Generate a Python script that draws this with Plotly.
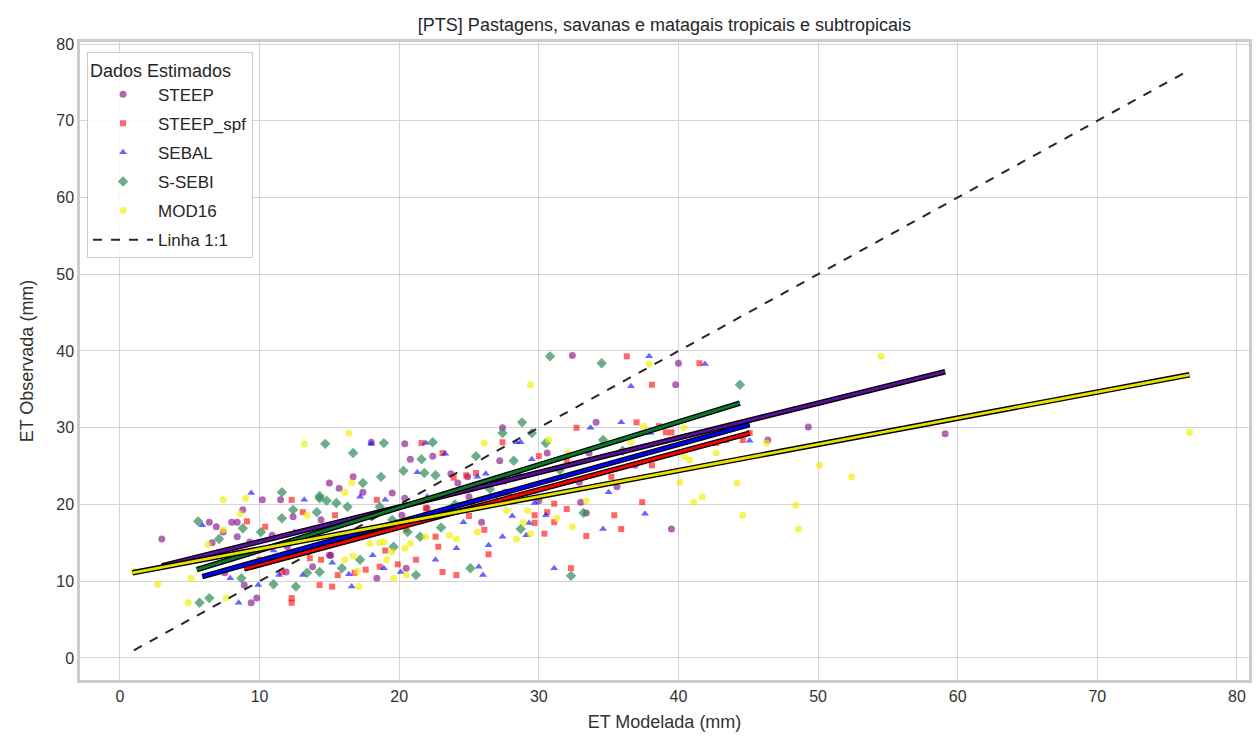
import plotly.graph_objects as go

# ---------------- data ----------------
steep_x = [3.0, 6.4, 6.9, 8.0, 8.4, 7.4, 6.6, 8.4, 8.8, 10.2, 11.5, 10.9, 12.4, 8.9, 9.4, 9.8, 11.9, 13.8, 9.3, 7.5,
           15.7, 17.4, 20.4, 20.2, 15.1, 20.5, 18.4, 25.9, 27.6,
           18.0, 20.4, 20.8, 22.4, 16.7, 27.2, 27.4, 24.2,
           32.4, 34.1, 30.6, 33.6, 32.9, 33.4, 33.0, 36.9, 35.6,
           39.5, 39.8, 40.0, 46.4, 49.3, 59.1,
           15.0, 19.5, 23.7, 24.9, 15.0, 14.4, 22.0, 25.0, 28.5, 30.0, 12.0, 17.0]
steep_y = [15.5, 17.7, 17.1, 17.7, 17.7, 16.4, 15.0, 15.8, 19.3, 20.6, 20.6, 16.0, 18.4, 9.5, 7.2, 7.8, 11.2, 11.9, 15.1, 11.1,
           22.1, 21.6, 20.8, 18.6, 13.4, 11.7, 10.4, 17.7, 21.6,
           28.1, 27.9, 25.9, 26.3, 23.6, 25.7, 30.0, 22.8,
           39.4, 30.7, 26.7, 26.7, 22.9, 18.9, 20.3, 25.1, 22.3,
           16.8, 35.6, 38.4, 28.4, 30.1, 29.2,
           22.8, 21.5, 24.0, 23.6, 13.4, 18.0, 19.5, 21.0, 24.0, 20.5, 14.5, 16.0]

spf_x = [36.3, 41.5, 38.1, 32.7, 37.0, 38.6, 39.1, 39.5, 30.0, 32.0, 35.2, 38.1,
         42.7, 43.4, 44.6, 45.1,
         31.1, 30.6, 32.0, 29.7, 29.7, 31.1, 30.4, 33.4, 35.4, 35.9, 37.4, 32.3,
         15.4, 18.4, 19.9, 21.2, 23.1, 24.1, 22.6, 22.8, 26.1, 26.4, 15.2, 18.6, 17.6, 15.6, 16.8, 21.9,
         12.3, 13.1, 9.1, 10.4, 12.3, 12.3, 14.3, 14.4, 13.6,
         21.6, 23.1, 27.4, 25.5, 24.8, 23.9,
         10.0, 11.6, 20.5, 25.0, 28.0, 19.0, 17.0, 27.5]
spf_y = [39.3, 38.4, 35.6, 30.0, 30.7, 30.2, 29.4, 29.4, 26.3, 25.8, 23.6, 25.1,
         28.0, 28.4, 28.4, 29.3,
         20.1, 19.0, 19.4, 18.6, 17.6, 17.7, 16.2, 15.9, 18.6, 16.8, 20.3, 11.7,
         18.6, 20.6, 12.2, 12.8, 11.2, 10.8, 15.8, 14.5, 16.7, 13.5, 9.3, 11.9, 11.5, 10.8, 11.1, 19.5,
         20.6, 19.0, 17.8, 17.1, 7.8, 7.2, 9.5, 12.8, 13.0,
         28.0, 26.7, 28.1, 24.1, 23.8, 23.5,
         12.8, 11.2, 16.8, 18.5, 21.0, 14.0, 16.5, 23.0]

sebal_x = [37.9, 41.9, 36.6, 35.9, 33.7, 38.0, 29.5, 28.7, 45.1,
           35.0, 30.5, 29.3, 29.1, 34.6, 37.6, 31.1, 29.7,
           28.1, 27.4, 26.4, 24.1, 22.6, 25.7, 26.0, 20.1, 16.6, 16.4, 18.9, 18.1, 17.2, 19.0, 24.6, 15.2,
           9.4, 13.2, 5.9, 7.9, 8.5, 9.9, 11.4, 12.5, 13.1,
           18.0, 21.9, 23.3, 21.3, 26.2, 25.6, 28.4,
           14.0, 20.0, 22.0, 11.0, 32.0, 27.0]
sebal_y = [39.3, 38.3, 35.4, 30.7, 30.0, 29.3, 25.9, 28.1, 28.3,
           21.6, 18.6, 17.6, 16.0, 16.8, 18.8, 11.7, 20.2,
           18.5, 15.8, 14.7, 14.3, 12.8, 11.9, 10.8, 11.2, 9.3, 10.9, 11.7, 13.4, 21.0, 20.6, 17.7, 12.4,
           21.5, 20.6, 17.3, 10.4, 7.2, 9.5, 10.8, 16.4, 10.8,
           27.9, 28.0, 26.6, 24.2, 24.0, 23.6, 28.1,
           15.5, 17.0, 21.0, 14.0, 23.0, 20.5]

ssebi_x = [30.8, 34.5, 28.8, 29.5, 30.5, 34.6, 44.4, 32.3, 33.2, 28.7,
           16.7, 18.9, 18.7, 21.6, 22.4, 20.3, 21.8, 22.6, 25.5, 27.4, 28.2,
           14.7, 17.4, 14.3, 14.8, 15.5, 16.3, 14.1, 12.4, 18.6, 17.2, 15.9, 14.3, 12.6, 19.6, 21.5, 21.2, 20.6, 25.1,
           11.6, 14.3, 5.6, 8.8, 7.1, 11.6, 10.1, 5.7, 6.4, 8.7, 11.0, 13.4,
           24.0, 26.5, 31.5, 36.0, 19.5, 23.0]
ssebi_y = [39.3, 38.4, 30.7, 29.3, 28.0, 28.4, 35.6, 10.7, 18.9, 16.8,
           26.7, 28.0, 23.6, 25.9, 28.1, 24.4, 24.1, 23.8, 26.3, 29.3, 25.7,
           27.9, 22.8, 21.1, 20.5, 20.2, 19.7, 19.0, 19.3, 19.7, 12.8, 11.7, 11.2, 9.3, 14.5, 15.8, 10.8, 16.4, 11.7,
           21.6, 20.8, 17.8, 16.9, 15.5, 18.2, 16.4, 7.2, 7.8, 10.4, 9.6, 11.1,
           20.0, 22.0, 24.5, 27.0, 18.0, 17.0]

mod16_x = [1.0, 2.7, 4.9, 7.6, 5.1, 6.3, 7.4, 8.6, 7.4, 9.0, 13.4,
           16.1, 16.7, 17.1, 17.0, 17.9, 18.6, 18.9, 19.5, 20.4, 20.8, 21.9, 23.6, 24.1, 25.6, 27.7, 28.4,
           19.1, 19.6, 20.5, 16.1, 16.4, 13.2, 16.6, 26.1,
           29.4, 37.9, 37.5, 36.6, 32.1, 30.7,
           32.4, 31.3, 33.4, 29.2, 28.9, 29.4,
           40.4, 40.4, 40.8, 40.1, 42.7, 44.2, 41.1, 41.7, 44.6, 46.3, 48.4, 48.6, 50.1, 52.4, 54.5, 76.6]
mod16_y = [11.3, 9.6, 7.2, 7.8, 10.4, 14.8, 16.7, 18.8, 20.6, 20.8, 18.6,
           21.6, 13.3, 9.3, 11.3, 14.9, 15.0, 15.1, 13.8, 14.3, 14.9, 15.8, 16.0, 15.5, 16.4, 19.2, 15.5,
           12.8, 10.4, 10.8, 12.8, 29.3, 27.9, 22.8, 28.0,
           35.6, 38.3, 30.2, 28.1, 26.7, 28.4,
           17.1, 18.2, 20.5, 19.2, 17.7, 16.2,
           30.0, 26.3, 25.8, 22.9, 26.7, 22.8, 20.3, 21.0, 18.6, 28.0, 19.9, 16.8, 25.1, 23.6, 39.3, 29.4]

# fitted regression lines (start / end values)
fit_steep_x, fit_steep_y = [3.0, 59.1], [12.0, 37.3]
fit_spf_x, fit_spf_y = [8.9, 45.1], [11.6, 29.3]
fit_sebal_x, fit_sebal_y = [5.9, 45.1], [10.6, 30.4]
fit_ssebi_x, fit_ssebi_y = [5.5, 44.4], [11.5, 33.2]
fit_mod16_x, fit_mod16_y = [0.9, 76.6], [11.1, 36.9]

# 1:1 line spans the data range
all_vals = steep_x + steep_y + spf_x + spf_y + sebal_x + sebal_y + ssebi_x + ssebi_y + mod16_x + mod16_y
one_x = [min(all_vals), max(all_vals)]

ticks = [0, 10, 20, 30, 40, 50, 60, 70, 80]

series = [
    ("STEEP", steep_x, steep_y, "circle", "rgba(128,0,128,0.6)", 7),
    ("STEEP_spf", spf_x, spf_y, "square", "rgba(255,0,0,0.6)", 6),
    ("SEBAL", sebal_x, sebal_y, "triangle-up", "rgba(0,0,255,0.6)", 7),
    ("S-SEBI", ssebi_x, ssebi_y, "diamond", "rgba(46,139,87,0.7)", 8),
    ("MOD16", mod16_x, mod16_y, "circle", "rgba(240,240,0,0.65)", 7),
]
fits = [
    (fit_steep_x, fit_steep_y, "#5b0fa0"),
    (fit_spf_x, fit_spf_y, "#ff0000"),
    (fit_sebal_x, fit_sebal_y, "#0000ff"),
    (fit_ssebi_x, fit_ssebi_y, "#0a7a2a"),
    (fit_mod16_x, fit_mod16_y, "#e8e000"),
]

fig = go.Figure()
for i, (name, xs, ys, sym, col, sz) in enumerate(series):
    fig.add_trace(go.Scatter(
        x=xs, y=ys, mode="markers", name=name, legendrank=i + 1, legendgroup=name,
        marker=dict(symbol=sym, color=col, size=sz, line=dict(width=0)),
    ))

fig.add_trace(go.Scatter(
    x=one_x, y=one_x, mode="lines", name="Linha 1:1", legendrank=10, legendgroup="one",
    line=dict(color="#262626", width=2, dash="dash"),
))

for fx, fy, col in fits:
    fig.add_trace(go.Scatter(x=fx, y=fy, mode="lines", showlegend=False,
                             line=dict(color="black", width=5.5), hoverinfo="skip"))
    fig.add_trace(go.Scatter(x=fx, y=fy, mode="lines", showlegend=False,
                             line=dict(color=col, width=2.8), hoverinfo="skip"))

axis_common = dict(
    tickvals=ticks, showgrid=True, gridcolor="#d4d4d4", gridwidth=1,
    zeroline=False, showline=True, mirror=True, linecolor="#cccccc", linewidth=2.5,
    ticks="", tickfont=dict(size=16, color="#333333"),
    title_font=dict(size=18, color="#333333"),
)

fig.update_layout(
    width=1256, height=740,
    margin=dict(l=80, r=4, t=42, b=60),
    paper_bgcolor="white", plot_bgcolor="white",
    font=dict(family="Liberation Sans, Arial, sans-serif", color="#333333"),
    title=dict(text="[PTS] Pastagens, savanas e matagais tropicais e subtropicais",
               x=0.5, xref="paper", xanchor="center", y=0.967, yanchor="middle",
               font=dict(size=18, color="#262626")),
    xaxis=dict(range=[-2.86, 80.86], title=dict(text="ET Modelada (mm)", standoff=12), **axis_common),
    yaxis=dict(range=[-2.87, 80.26], title=dict(text="ET Observada (mm)", standoff=18), **axis_common),
    legend=dict(
        x=0.006, y=0.984, xanchor="left", yanchor="top",
        bgcolor="rgba(255,255,255,0.85)", bordercolor="#cccccc", borderwidth=1,
        title=dict(text="Dados Estimados", font=dict(size=18, color="#262626")),
        font=dict(size=17, color="#262626"),
        itemsizing="trace", itemwidth=60, tracegroupgap=4, traceorder="grouped",
    ),
    showlegend=True,
)

fig.write_html("out.html")
